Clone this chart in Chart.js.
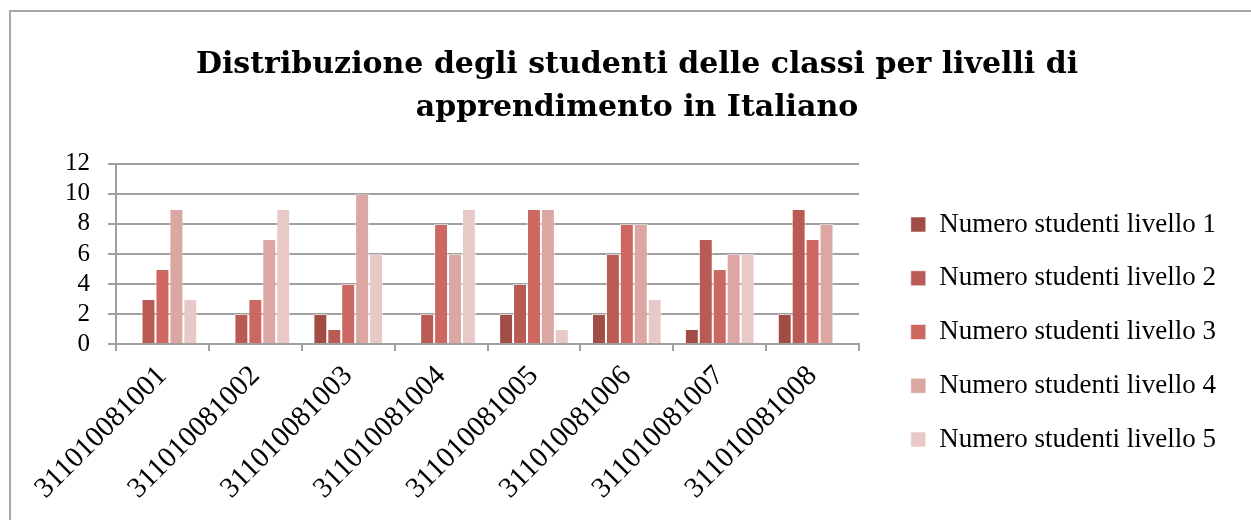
<!DOCTYPE html>
<html><head><meta charset="utf-8">
<script src="https://cdn.jsdelivr.net/npm/chart.js@4"></script>
<style>
html,body{margin:0;padding:0;background:#fff;overflow:hidden;}
#wrap{position:relative;width:1251px;height:520px;}
#frame{position:absolute;left:9px;top:10px;width:1300px;height:600px;border:2px solid #a6a6a6;box-sizing:border-box;pointer-events:none;}
canvas{position:absolute;left:0;top:0;}
</style></head>
<body><div id="wrap"><canvas id="c" width="1251" height="520"></canvas><div id="frame"></div></div>
<script>
const categories = ["311010081001","311010081002","311010081003","311010081004","311010081005","311010081006","311010081007","311010081008"];
const seriesNames = ["Numero studenti livello 1","Numero studenti livello 2","Numero studenti livello 3","Numero studenti livello 4","Numero studenti livello 5"];
const livello1 = [0,0,2,0,2,2,1,2];
const livello2 = [3,2,1,2,4,6,7,9];
const livello3 = [5,3,4,8,9,8,5,7];
const livello4 = [9,7,10,6,9,8,6,8];
const livello5 = [3,9,6,9,1,3,6,0];
const yTicks = [0,2,4,6,8,10,12];
const colors = ["#a24c46","#b95b54","#cd6761","#dca6a3","#e9c9c8"];
const titleLines = ["Distribuzione degli studenti delle classi per livelli di","apprendimento in Italiano"];

const seriesValues = [livello1,livello2,livello3,livello4,livello5];
const serif = "'Liberation Serif', 'DejaVu Serif', serif";
const titleFont = "'DejaVu Serif', serif";
const gridCol = "#a0a0a0";

new Chart(document.getElementById('c'), {
  type: 'bar',
  data: {
    labels: categories,
    datasets: seriesValues.map((v,i)=>({
      label: seriesNames[i], data: v, backgroundColor: colors[i],
      borderColor: 'rgba(255,255,255,0.55)', borderWidth: 1,
      barPercentage: 1.0, categoryPercentage: 0.75
    }))
  },
  options: {
    responsive: false, animation: false,
    layout: {padding: {left: 48, right: 25, top: 10, bottom: 6}},
    plugins: {
      title: {display: true, text: titleLines, color: '#000',
        font: {family: titleFont, size: 30, weight: 'bold', lineHeight: 1.43}, padding: {top: 33.5, bottom: 34.5}},
      legend: {position: 'right', align: 'center', maxWidth: 500,
        title: {display: true, text: ' ', font: {size: 1, lineHeight: 1}, padding: 69.5},
        labels: {boxWidth: 15, boxHeight: 15, padding: 26.75, color: '#000',
          font: {family: serif, size: 27}}},
      tooltip: {enabled: false}
    },
    scales: {
      x: {
        grid: {display: true, drawOnChartArea: false, drawTicks: true, tickLength: 7, color: gridCol, lineWidth: 2, offset: true},
        border: {display: true, color: gridCol, width: 2},
        ticks: {color: '#000', font: {family: serif, size: 29}, minRotation: 45, maxRotation: 45, padding: 8, autoSkip: false}
      },
      y: {
        min: 0, max: 12,
        afterBuildTicks: (s) => { s.ticks = yTicks.map(v=>({value:v})); },
        afterFit: (s) => { s.width = 68; },
        grid: {color: gridCol, lineWidth: 2, drawTicks: true, tickLength: 8},
        border: {display: true, color: gridCol, width: 2},
        ticks: {color: '#000', font: {family: serif, size: 25}, padding: 18, autoSkip: false}
      },
      yR: {
        position: 'right', display: true,
        grid: {display: false}, border: {display: false},
        ticks: {display: false},
        afterFit: (s) => { s.width = 25; }
      }
    }
  }
});
</script></body></html>
